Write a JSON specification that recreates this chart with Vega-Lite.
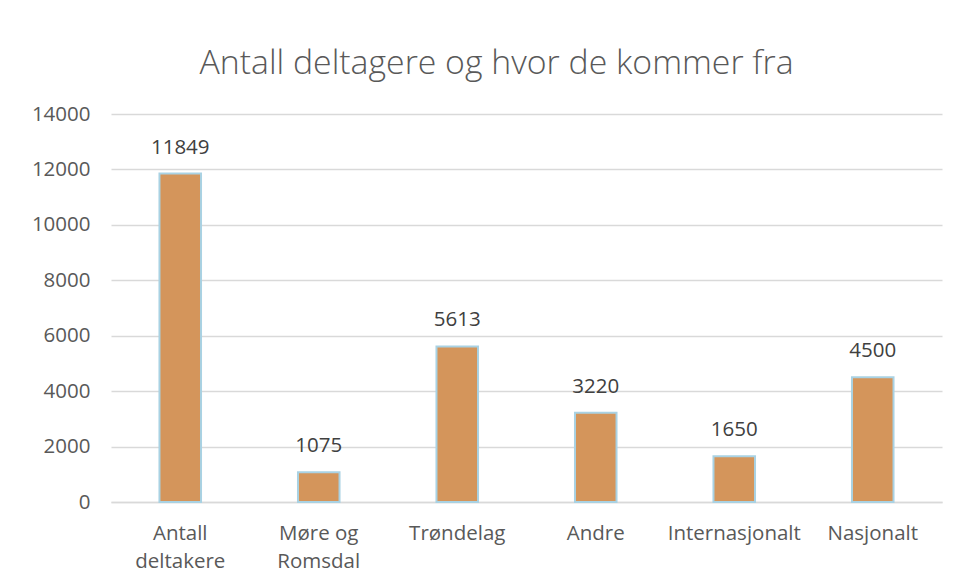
{
  "$schema": "https://vega.github.io/schema/vega-lite/v6.json",
  "autosize": "none",
  "width": 831,
  "height": 388,
  "padding": {"left": 111, "top": 114, "right": 18, "bottom": 82},
  "background": "white",
  "title": {
    "text": "Antall deltagere og hvor de kommer fra",
    "font": "Open Sans",
    "fontSize": 33.8,
    "fontWeight": 300,
    "color": "#595959",
    "anchor": "middle",
    "dx": -30,
    "offset": 23
  },
  "data": {
    "values": [
      {"kategori": "Antall\ndeltakere", "antall": 11849},
      {"kategori": "Møre og\nRomsdal", "antall": 1075},
      {"kategori": "Trøndelag", "antall": 5613},
      {"kategori": "Andre", "antall": 3220},
      {"kategori": "Internasjonalt", "antall": 1650},
      {"kategori": "Nasjonalt", "antall": 4500}
    ]
  },
  "encoding": {
    "x": {
      "field": "kategori",
      "type": "nominal",
      "sort": null,
      "scale": {"paddingInner": 0.7, "paddingOuter": 0.35},
      "axis": {
        "title": null,
        "labelAngle": 0,
        "labelExpr": "split(datum.label, '\\n')",
        "labelFont": "Open Sans",
        "labelFontSize": 20.5,
        "labelColor": "#595959",
        "labelLineHeight": 28,
        "labelPadding": 31,
        "labelBaseline": "middle",
        "ticks": false,
        "domainColor": "#d9d9d9",
        "domainWidth": 1.5
      }
    },
    "y": {
      "field": "antall",
      "type": "quantitative",
      "scale": {"domain": [0, 14000]},
      "axis": {
        "title": null,
        "values": [0, 2000, 4000, 6000, 8000, 10000, 12000, 14000],
        "format": "d",
        "labelFont": "Open Sans",
        "labelFontSize": 20.5,
        "labelColor": "#595959",
        "labelPadding": 21,
        "ticks": false,
        "domain": false,
        "gridColor": "#d9d9d9",
        "gridWidth": 1.5
      }
    }
  },
  "layer": [
    {
      "mark": {"type": "bar", "color": "#D4955B", "stroke": "#A9D2E3", "strokeWidth": 2}
    },
    {
      "mark": {"type": "text", "baseline": "bottom", "dy": -16, "font": "Open Sans", "fontSize": 20.5, "color": "#404040"},
      "encoding": {"text": {"field": "antall", "type": "quantitative", "format": "d"}}
    }
  ],
  "config": {"view": {"stroke": null}}
}
